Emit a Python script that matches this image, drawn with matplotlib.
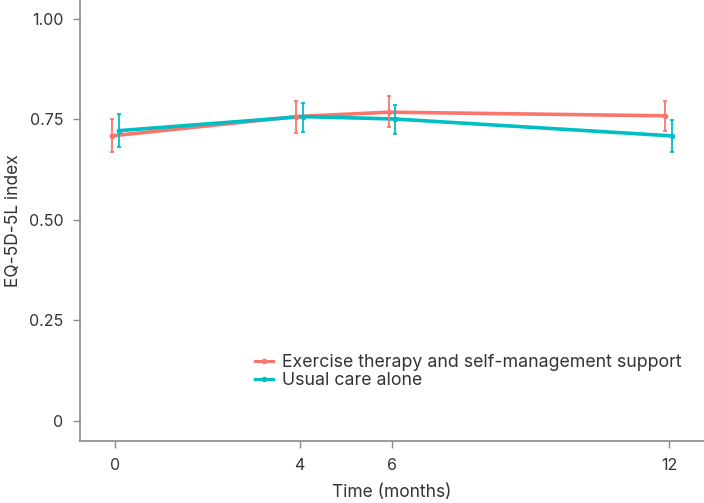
import matplotlib.pyplot as plt
from matplotlib.lines import Line2D

plt.rcParams['font.family'] = ['Inter', 'DejaVu Sans']

months = [0, 4, 6, 12]
groups = ["Exercise therapy and self-management support", "Usual care alone"]
colors = ['#F8766D', '#00BFC4']

ex_mean = [0.709, 0.757, 0.768, 0.759]
ex_low = [0.668, 0.717, 0.732, 0.721]
ex_high = [0.750, 0.797, 0.807, 0.795]

uc_mean = [0.722, 0.757, 0.751, 0.709]
uc_low = [0.682, 0.718, 0.714, 0.668]
uc_high = [0.763, 0.792, 0.786, 0.749]

dodge = 0.075
axis_grey = '#8a8a8a'
text_grey = '#333333'

fig = plt.figure(figsize=(7.04, 5.03), dpi=100)
ax = fig.add_axes([80 / 704, 62 / 503, 1 - 80 / 704, 1 - 62 / 503])

series = [(ex_mean, ex_low, ex_high, -dodge), (uc_mean, uc_low, uc_high, dodge)]
for (mean, low, high, off), col in zip(series, colors):
    xs = [m + off for m in months]
    ax.plot(xs, mean, color=col, lw=2.6, solid_capstyle='round', zorder=3)
    yerr = [[m - lo for m, lo in zip(mean, low)], [hi - m for m, hi in zip(mean, high)]]
    ax.errorbar(xs, mean, yerr=yerr, fmt='o', ms=3, color=col, ecolor=col,
                elinewidth=1.3, capsize=1.2, capthick=1.3, zorder=4)

ax.set_xlim(-0.76, 12.76)
ax.set_ylim(-0.0498, 1.047)
ax.set_xticks(months)
ax.set_yticks([0, 0.25, 0.5, 0.75, 1.0])
ax.set_yticklabels(['0', '0.25', '0.50', '0.75', '1.00'])

for side in ['top', 'right']:
    ax.spines[side].set_visible(False)
for side in ['left', 'bottom']:
    ax.spines[side].set_color(axis_grey)
    ax.spines[side].set_linewidth(1.2)
ax.tick_params(colors=axis_grey, labelcolor=text_grey, labelsize=11.5, length=5, width=1, pad=7)

ax.set_xlabel("Time (months)", fontsize=12.5, color=text_grey, labelpad=8)
ax.set_ylabel("EQ-5D-5L index", fontsize=12.5, color=text_grey)
ax.yaxis.set_label_coords(-0.093, 0.5)

handles = [Line2D([0], [0], color=c, lw=2.2, marker='o', ms=3) for c in colors]
ax.legend(handles, groups, loc='upper left', bbox_to_anchor=(0.266, 0.218),
          frameon=False, fontsize=12.8, handlelength=1.0, handletextpad=0.5,
          labelspacing=0.08, borderpad=0, labelcolor=text_grey)

fig.savefig("out.png", dpi=100)
